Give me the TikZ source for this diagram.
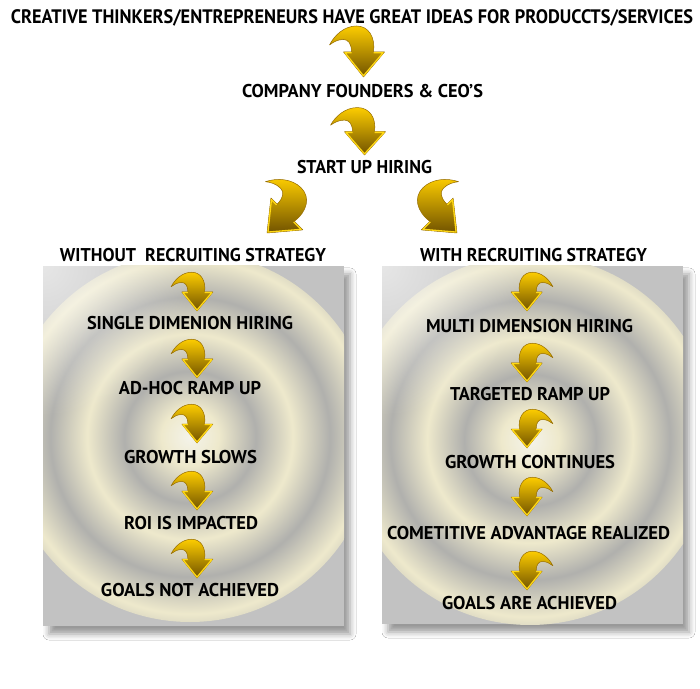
\documentclass[tikz,border=0pt]{standalone}
\usepackage{fontspec}
\setmainfont{PT Sans}
\usepackage{graphicx}
\usetikzlibrary{shadows.blur,fadings}

% gold arrow colours
\definecolor{goldtop}{RGB}{252,204,0}
\definecolor{goldmid}{RGB}{214,160,0}
\definecolor{goldbot}{RGB}{112,82,0}
\definecolor{goldrim}{RGB}{255,216,20}
\definecolor{goldedge}{RGB}{150,108,0}
% panel colours
\definecolor{panelgray}{RGB}{194,194,194}
\definecolor{ringc0}{RGB}{244,243,234}
\definecolor{ringcr}{RGB}{238,233,204}
\definecolor{ringgy}{RGB}{176,176,173}
\definecolor{ringcr2}{RGB}{234,229,202}
\definecolor{ringgy2}{RGB}{180,180,178}
\definecolor{ringcr3}{RGB}{222,219,204}

% concentric soft rings behind each column
\pgfdeclareradialshading{rings}{\pgfpoint{0bp}{0bp}}{%
  color(0bp)=(ringc0);
  color(3.9bp)=(ringcr);
  color(8.9bp)=(ringgy);
  color(13.9bp)=(ringcr);
  color(18.9bp)=(ringgy);
  color(23.9bp)=(ringcr);
  color(28.9bp)=(ringgy);
  color(33.9bp)=(ringcr2);
  color(38.9bp)=(ringgy2);
  color(43.9bp)=(ringcr3);
  color(49.4bp)=(panelgray);
  color(50bp)=(panelgray)}

\tikzfading[name=glare, inner color=transparent!40, outer color=transparent!100]

\newcommand\fitto[2]{\resizebox{#1pt}{\height}{#2}}

\tikzset{
  lbl/.style={anchor=base, inner sep=0pt, text=black,
    font=\bfseries\fontsize{18.5}{20}\selectfont},
  ttl/.style={lbl, font=\bfseries\fontsize{19.5}{21}\selectfont},
  panel/.style={fill=panelgray, blur shadow={shadow xshift=6pt,
    shadow yshift=-8pt, shadow blur radius=6pt, shadow opacity=40}},
  garrow/.pic={
    \shade[top color=goldtop, middle color=goldmid, bottom color=goldbot,
           draw=goldedge, line width=0.5pt, line join=round]
      (-12,25) -- (-20,25) -- (0,0) -- (21,25) -- (10,25)
      .. controls (12,40) and (5,51) .. (-7,51)
      .. controls (-19,51) and (-29,42) .. (-34,32)
      .. controls (-30,35) and (-26,37.5) .. (-20,37.5)
      .. controls (-15,37.5) and (-12,33) .. (-12,25) -- cycle;
    \draw[goldrim, line width=1.3pt, line join=round]
      (-12,24.3) -- (-18.6,24.3) -- (0,1.2) -- (19.6,24.3) -- (10,24.3);
  }
}

\begin{document}
\begin{tikzpicture}[x=1pt,y=1pt]
\useasboundingbox (0,0) rectangle (700,688);
\fill[white] (0,0) rectangle (700,688);

% ---------- panels ----------
\path[panel] (43,62) rectangle (344,422);
\path[panel] (382,64) rectangle (683,422);
\begin{scope}
  \clip (43,62) rectangle (344,422);
  \shade[shading=rings] (190,251) circle (185);
  \fill[white, path fading=glare] (43,422) circle (150);
\end{scope}
\begin{scope}
  \clip (382,64) rectangle (683,422);
  \shade[shading=rings] (530,248) circle (185);
  \fill[white, path fading=glare] (382,422) circle (150);
\end{scope}

% ---------- top flow ----------
\node[ttl] (idea) at (352,664.5)
  {\fitto{682}{CREATIVE THINKERS/ENTREPRENEURS HAVE GREAT IDEAS FOR PRODUCCTS/SERVICES}};
\node[lbl] (ceo) at (362.5,590.8) {\fitto{241}{COMPANY FOUNDERS \& CEO’S}};
\node[lbl] (hire) at (364.5,514.8) {\fitto{135}{START UP HIRING}};
\node[lbl] (without) at (193,426.5) {\fitto{266}{WITHOUT\ \ RECRUITING STRATEGY}};
\node[lbl] (with) at (533.5,426.5) {\fitto{227}{WITH RECRUITING STRATEGY}};

\pic at (363.5,611) {garrow};
\pic[yscale=0.93] at (364.5,533) {garrow};
\pic[rotate=-45, scale=1.1] at (267,455) {garrow};
\pic[xscale=-1, rotate=-45, scale=1.1] at (457,455) {garrow};

% ---------- left column ----------
\node[lbl] (l1) at (190,358.5) {\fitto{206}{SINGLE DIMENION HIRING}};
\node[lbl] (l2) at (190,293.5) {\fitto{142}{AD-HOC RAMP UP}};
\node[lbl] (l3) at (190.5,224.5) {\fitto{133}{GROWTH SLOWS}};
\node[lbl] (l4) at (191,158.5) {\fitto{134}{ROI IS IMPACTED}};
\node[lbl] (l5) at (190,91.5) {\fitto{178}{GOALS NOT ACHIEVED}};
\foreach \yy in {377,310,245,178,110}
  \pic[scale=0.76] at (197,\yy) {garrow};

% ---------- right column ----------
\node[lbl] (r1) at (529.5,355.5) {\fitto{207}{MULTI DIMENSION HIRING}};
\node[lbl] (r2) at (530,287.5) {\fitto{160}{TARGETED RAMP UP}};
\node[lbl] (r3) at (530,219.5) {\fitto{170}{GROWTH CONTINUES}};
\node[lbl] (r4) at (528.5,148.5) {\fitto{283}{COMETITIVE ADVANTAGE REALIZED}};
\node[lbl] (r5) at (529.5,78.5) {\fitto{175}{GOALS ARE ACHIEVED}};
\foreach \yy in {377,306,240,172,98}
  \pic[xscale=-0.76, yscale=0.76] at (527,\yy) {garrow};
\end{tikzpicture}
\end{document}
